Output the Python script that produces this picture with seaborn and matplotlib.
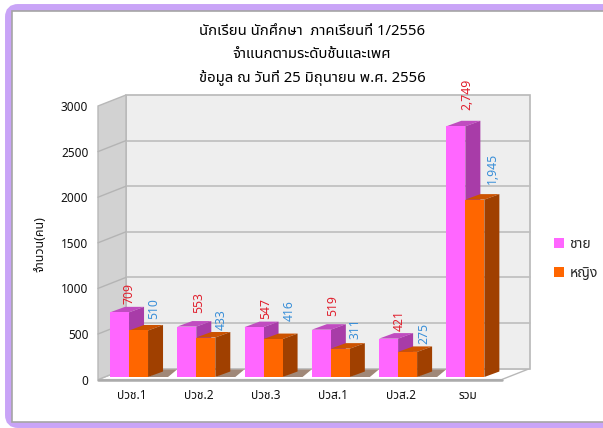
import matplotlib
matplotlib.use('Agg')
import matplotlib.pyplot as plt
from matplotlib.patches import FancyBboxPatch, Rectangle
from matplotlib.transforms import Affine2D
import seaborn as sns
import pandas as pd

categories = ['ปวช.1', 'ปวช.2', 'ปวช.3', 'ปวส.1', 'ปวส.2', 'รวม']
male = [709, 553, 547, 519, 421, 2749]
female = [510, 433, 416, 311, 275, 1945]
series_names = ['ชาย', 'หญิง']
y_ticks = [0, 500, 1000, 1500, 2000, 2500, 3000]
title_text = 'นักเรียน นักศึกษา  ภาคเรียนที่ 1/2556\nจำแนกตามระดับชั้นและเพศ\nข้อมูล ณ วันที่ 25 มิถุนายน พ.ศ. 2556'
y_label = 'จำนวน(คน)'

# label nudges in pixels, measured on the picture
male_nudge = [(9.5, 8), (12.3, 13.6), (12, 8), (11, 13.7), (11, 8), (11, 16)]
female_nudge = [(15.5, 11.5), (15.3, 7.5), (16, 18), (15, 9.6), (16, 8), (18, 16)]

sns.set_theme(style='white')
plt.rcParams['font.family'] = ['Noto Sans', 'Noto Sans Thai', 'DejaVu Sans']

W, H = 603, 428
fig = plt.figure(figsize=(W / 100, H / 100), dpi=100)

# purple frame behind everything
bg = fig.add_axes([0, 0, 1, 1], zorder=-1)
bg.set_xlim(0, W)
bg.set_ylim(H, 0)
bg.axis('off')
bg.add_patch(FancyBboxPatch((11, 10), 640, 412, boxstyle='round,pad=0,rounding_size=7',
                            fc='#C9A4F7', ec='#C9A4F7', lw=8.6))
bg.add_patch(Rectangle((11.5, 10.5), 640, 411.5, fc='white', ec='#A5A5A5', lw=1.2))

# front plane of the fake 3D box
left, right, top, bottom = 98, 501.6, 106, 379.6
ax = fig.add_axes([left / W, 1 - bottom / H, (right - left) / W, (bottom - top) / H])
ax.patch.set_visible(False)

df = pd.DataFrame({
    'cat': categories * 2,
    'sex': [series_names[0]] * 6 + [series_names[1]] * 6,
    'val': male + female,
})
sns.barplot(data=df, x='cat', y='val', hue='sex', order=categories, hue_order=series_names,
            palette=['#FF66FF', '#FF6600'], width=0.565, gap=0, saturation=1, ax=ax, legend=False)
ax.set_xlim(-0.5, 5.5)
ax.set_ylim(0, 3000)

px_x = (right - left) / 6
px_y = (bottom - top) / 3000
dx = lambda p: p / px_x
dy = lambda p: p / px_y

# walls and floor
bx, by = dx(28), dy(11)
ax.fill([-0.5, 5.5, 5.5 + bx, -0.5 + bx], [0, 0, by, by], fc='white', ec='#B8B8B8', lw=1, zorder=0.5, clip_on=False)
ax.fill([-0.5 + bx, 5.5 + bx, 5.5 + bx, -0.5 + bx], [by, by, 3000 + by, 3000 + by], fc='#EEEEEE', ec='#B8B8B8', lw=1.2, zorder=0.6, clip_on=False)
ax.fill([-0.5, -0.5 + bx, -0.5 + bx, -0.5], [0, by, 3000 + by, 3000], fc='#D2D2D2', ec='#B8B8B8', lw=1, zorder=0.7, clip_on=False)
ax.plot([-0.5, 5.5], [0, 0], color='#ABABAB', lw=1.8, zorder=0.8, clip_on=False)
for t in y_ticks[1:-1]:
    ax.plot([-0.5 + bx, 5.5 + bx], [t + by, t + by], color='#BDBDBD', lw=1.2, zorder=0.9, clip_on=False)
    ax.plot([-0.5, -0.5 + bx], [t, t + by], color='#B4B4B4', lw=1, zorder=0.9, clip_on=False)

# bars sit slightly inside the box, so move them and add their depth
bar_tr = ax.transData + Affine2D().translate(-2.6, 2.6)
ddx, ddy = dx(15), dy(5.5)
faces = [('#C04CC0', '#A83CA8'), ('#CC5200', '#A04000')]
nudges = [male_nudge, female_nudge]
for s, cont in enumerate(ax.containers):
    z = 2 + s
    top_c, side_c = faces[s]
    for i, p in enumerate(cont.patches):
        x0, w, h = p.get_x(), p.get_width(), p.get_height()
        p.set_transform(bar_tr)
        p.set_zorder(z + 0.2)
        p.set_linewidth(0)
        p.set_clip_on(False)
        ax.fill([x0, x0 + ddx, x0 + w + ddx, x0 + w], [h, h + ddy, h + ddy, h], fc=top_c, lw=0, transform=bar_tr, zorder=z, clip_on=False)
        ax.fill([x0 + w, x0 + w + ddx, x0 + w + ddx, x0 + w], [0, ddy, h + ddy, h], fc=side_c, lw=0, transform=bar_tr, zorder=z, clip_on=False)
        if s == 1 and i < 5:
            # shadow on the floor
            ax.fill([x0 + w, x0 + w + ddx, x0 + w + ddx + dx(14), x0 + w + dx(20)],
                    [0, dy(7.5), dy(7.5), 0], fc='#A08878', lw=0, transform=bar_tr, zorder=1, clip_on=False)
        nx, ny = nudges[s][i]
        color = '#E0202E' if s == 0 else '#3A8FD8'
        ax.annotate(f'{int(h):,}', xy=(x0 + w / 2, h), xytext=(nx - 2.6, ny + 2.6), textcoords='offset pixels',
                    rotation=90, ha='center', va='bottom', fontsize=8.8, color=color, zorder=6, annotation_clip=False)

# ticks and labels
ax.set_yticks(y_ticks)
ax.set_xticks(range(6))
ax.set_xticklabels(categories)
ax.tick_params(axis='both', length=0, labelsize=8.5, labelcolor='#111111')
ax.tick_params(axis='y', pad=7)
ax.tick_params(axis='x', pad=7)
for lab in ax.get_xticklabels() + ax.get_yticklabels():
    lab.set_fontweight('medium')
ax.set_xlabel('')
ax.set_ylabel(y_label, fontsize=9, color='#111111', fontweight='medium')
ax.yaxis.set_label_coords((46 - left) / (right - left), (bottom - 244) / (bottom - top))
sns.despine(ax=ax, left=True, bottom=True)

handles = [c.patches[0] for c in ax.containers]
ax.legend(handles, series_names, loc='center left', frameon=False,
          prop={'size': 10, 'weight': 'medium'},
          bbox_to_anchor=(554 / W, 1 - 259 / H), bbox_transform=fig.transFigure,
          handlelength=0.75, handleheight=0.75, handletextpad=0.35, labelspacing=1.0, borderpad=0, borderaxespad=0)

fig.suptitle(title_text, x=312 / W, y=1 - 24 / H, va='top', ha='center', fontsize=10.7, fontweight='medium',
             linespacing=1.7, color='#000000')

fig.savefig('out.png', dpi=100)
plt.close(fig)
